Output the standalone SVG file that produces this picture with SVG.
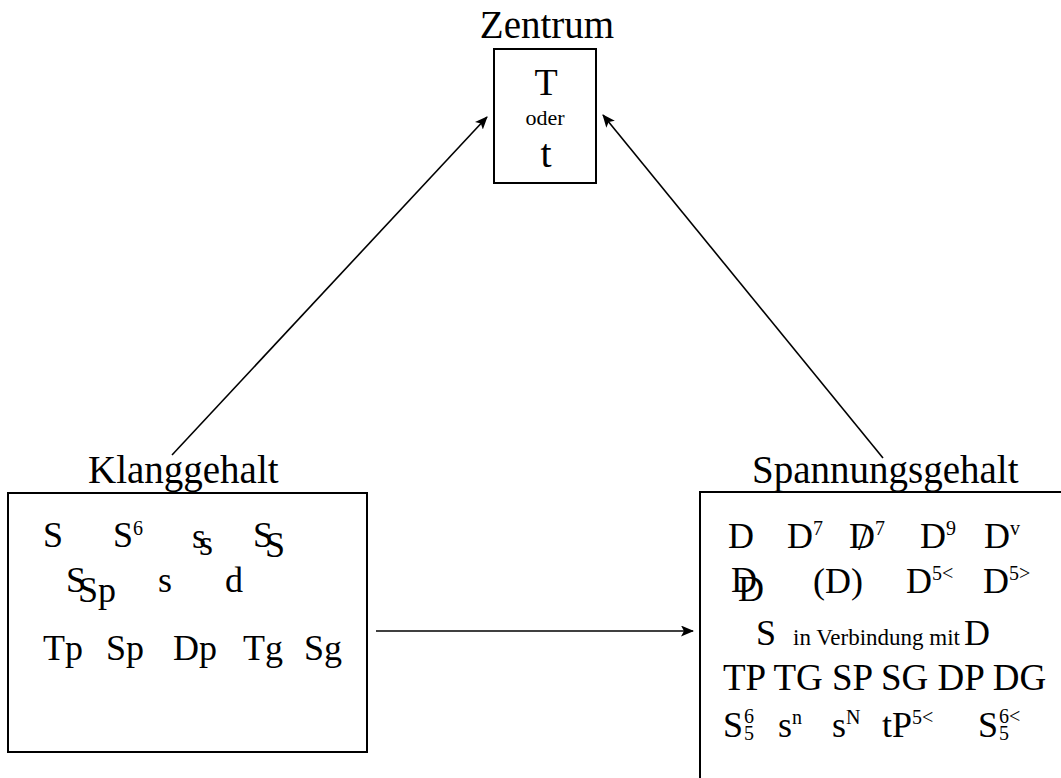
<svg xmlns="http://www.w3.org/2000/svg" width="1061" height="778" viewBox="0 0 1061 778">
<style>
text{font-family:"Liberation Serif","Times New Roman",serif;fill:#000}
.h{font-size:39px}
.b{font-size:36px}
.sup{font-size:20px}
.sm{font-size:23px}
.box{fill:#fff;stroke:#000;stroke-width:2}
.con{stroke:#000;stroke-width:1.6;fill:none}
</style>
<defs>
<marker id="ah" viewBox="0 0 13 11" refX="12" refY="5.5" markerWidth="13" markerHeight="11" markerUnits="userSpaceOnUse" orient="auto">
<path d="M0,0 L13,5.5 L0,11 L3,5.5 Z" fill="#000"/>
</marker>
</defs>
<rect width="1061" height="778" fill="#fff"/>

<g id="connectors">
<line class="con" x1="172" y1="455" x2="487" y2="117" marker-end="url(#ah)"/>
<line class="con" x1="883" y1="458" x2="603" y2="115" marker-end="url(#ah)"/>
<line class="con" x1="376" y1="631" x2="693" y2="631" marker-end="url(#ah)"/>
</g>

<g id="zentrum">
<text class="h" x="547" y="38" text-anchor="middle">Zentrum</text>
<rect class="box" x="494" y="49" width="102" height="134"/>
<text x="546" y="95" text-anchor="middle" style="font-size:38px">T</text>
<text x="545" y="125" text-anchor="middle" style="font-size:22px">oder</text>
<text x="546" y="167" text-anchor="middle" style="font-size:40px">t</text>
</g>

<g id="klanggehalt">
<text class="h" x="88" y="483">Klanggehalt</text>
<rect class="box" x="8" y="493" width="359" height="259"/>
<text class="b" x="43" y="547">S</text>
<text class="b" x="113" y="547">S<tspan class="sup" dy="-12">6</tspan></text>
<text class="b" x="192" y="548">s</text>
<text class="b" x="199" y="555">s</text>
<text class="b" x="253" y="547">S</text>
<text class="b" x="265" y="557">S</text>
<text class="b" x="66" y="592">S</text>
<text class="b" x="78" y="602">Sp</text>
<text class="b" x="158" y="592">s</text>
<text class="b" x="225" y="592">d</text>
<text class="b" x="43" y="660">Tp</text>
<text class="b" x="106" y="660">Sp</text>
<text class="b" x="173" y="660">Dp</text>
<text class="b" x="243" y="660">Tg</text>
<text class="b" x="304" y="660">Sg</text>
</g>

<g id="spannungsgehalt">
<text class="h" x="752" y="483">Spannungsgehalt</text>
<rect class="box" x="700" y="492" width="400" height="400"/>
<text class="b" x="728" y="548">D</text>
<text class="b" x="787" y="548">D<tspan class="sup" dy="-13">7</tspan></text>
<text class="b" x="849" y="548">D<tspan class="sup" dy="-13">7</tspan></text>
<text class="b" x="858" y="550">/</text>
<text class="b" x="920" y="548">D<tspan class="sup" dy="-13">9</tspan></text>
<text class="b" x="984" y="548">D<tspan class="sup" dy="-13">v</tspan></text>

<text class="b" x="731" y="592">D</text>
<text class="b" x="738" y="601">D</text>
<text class="b" x="813" y="593">(D)</text>
<text class="b" x="906" y="593">D<tspan class="sup" dy="-13">5&lt;</tspan></text>
<text class="b" x="983" y="593">D<tspan class="sup" dy="-13">5&gt;</tspan></text>

<text class="b" x="756" y="645">S</text>
<text class="sm" x="793" y="645">in Verbindung mit</text>
<text class="b" x="964" y="645">D</text>

<text style="font-size:37px" x="723" y="690">TP TG SP SG DP DG</text>

<text class="b" x="723" y="737">S</text>
<text class="sup" x="744" y="723">6</text>
<text class="sup" x="744" y="740">5</text>
<text class="b" x="778" y="737">s<tspan class="sup" dy="-13">n</tspan></text>
<text class="b" x="832" y="737">s<tspan class="sup" dy="-13">N</tspan></text>
<text class="b" x="882" y="737">tP<tspan class="sup" dy="-13">5&lt;</tspan></text>
<text class="b" x="978" y="737">S</text>
<text class="sup" x="999" y="723">6&lt;</text>
<text class="sup" x="999" y="740">5</text>
</g>
</svg>
